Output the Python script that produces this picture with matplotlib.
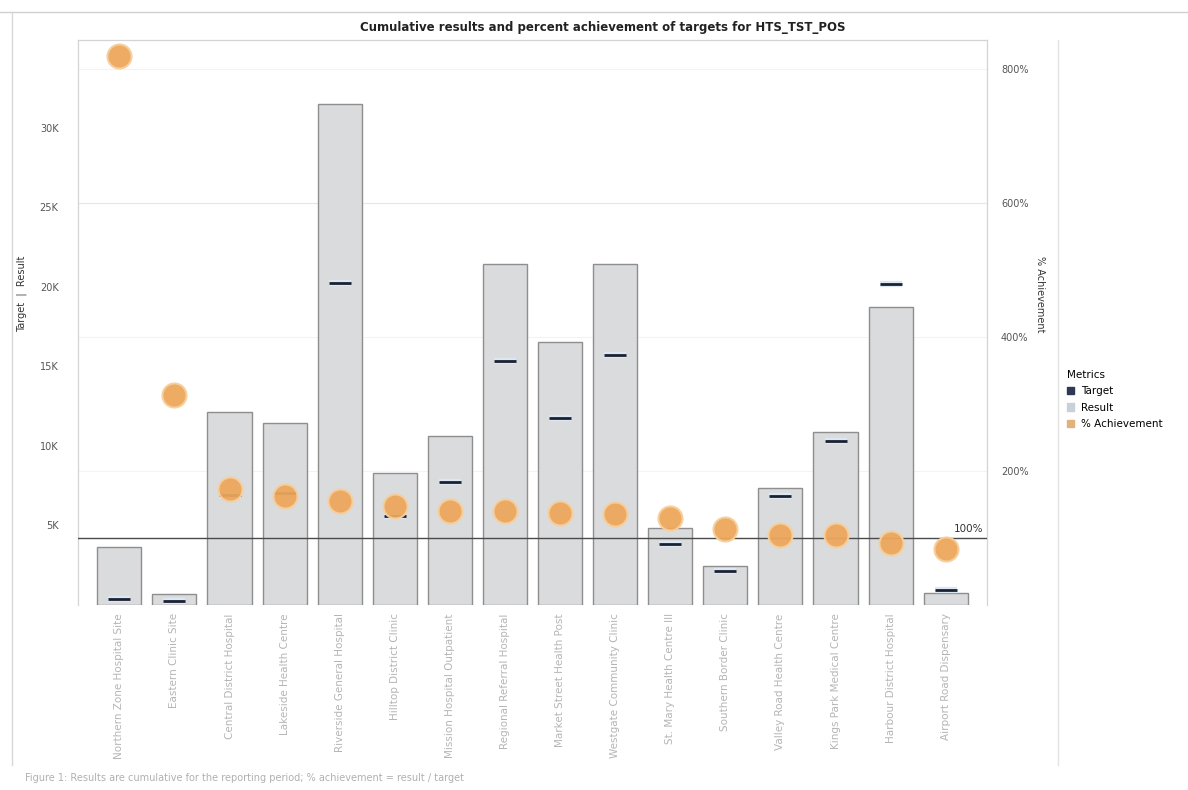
import numpy as np
import matplotlib
matplotlib.use("Agg")
import matplotlib.pyplot as plt
from matplotlib.lines import Line2D
from matplotlib.patches import Patch
from matplotlib.ticker import FuncFormatter

# site labels (blurred in the source, so these are stand-ins)
sites = ["Northern Zone Hospital Site", "Eastern Clinic Site",
         "Central District Hospital", "Lakeside Health Centre",
         "Riverside General Hospital", "Hilltop District Clinic",
         "Mission Hospital Outpatient", "Regional Referral Hospital",
         "Market Street Health Post", "Westgate Community Clinic",
         "St. Mary Health Centre III", "Southern Border Clinic",
         "Valley Road Health Centre", "Kings Park Medical Centre",
         "Harbour District Hospital", "Airport Road Dispensary"]

# values
result = [3650, 700, 12100, 11450, 31450, 8300, 10600, 21400,
          16500, 21400, 4850, 2450, 7350, 10900, 18750, 750]
target = [400, 250, 6900, 7050, 20250, 5600, 7700, 15300,
          11750, 15700, 3850, 2150, 6850, 10300, 20200, 950]
achievement = [819, 313, 173, 163, 155, 148, 140, 140,
               137, 136, 130, 113, 104, 104, 93, 84]

left_ticks = [5000, 10000, 15000, 20000, 25000, 30000]
right_ticks = [200, 400, 600, 800]

c_bar = "#dadbdd"
c_target = "#1c2130"
c_point = "#eca75c"
txt = "#555555"

fig = plt.figure(figsize=(11.88, 7.9), dpi=100)
ax = fig.add_axes([78 / 1188, 185 / 790, 909 / 1188, 565 / 790])
ax2 = ax.twinx()
ax.set_zorder(ax2.get_zorder() + 1)
ax.patch.set_visible(False)

x = np.arange(len(sites))

# gridlines for the % axis (only 600% shows clearly)
for t in right_ticks:
    ax2.axhline(t, color="#e6e6e6" if t == 600 else "#f3f3f3", lw=0.8, zorder=0)

ax.bar(x, result, width=0.8, color=c_bar, edgecolor="#8e8e8e", lw=1, zorder=2)
# target dashes with a pale halo
ax.scatter(x, target, marker="_", s=260, linewidths=4.5, color="#dbe8f4", zorder=3)
ax.scatter(x, target, marker="_", s=260, linewidths=2.0, color=c_target, zorder=4)

ax.set_xlim(-0.75, 15.75)
ax.set_ylim(0, 35500)
ax2.set_ylim(0, 843)

# % achievement points, drawn on ax via the ax2 scale
pts = ax2.transData.transform(np.column_stack([x, achievement]))
pts = ax.transData.inverted().transform(pts)
ax.scatter(pts[:, 0], pts[:, 1], s=300, color=c_point, edgecolor="#f6cf9c",
           linewidths=1.5, alpha=0.95, zorder=5)

# 100% reference line
y100 = ax.transData.inverted().transform(ax2.transData.transform((0, 100)))[1]
ax.axhline(y100, color="#4a4a4a", lw=1.0, zorder=4.5)
ax.text(15.42, y100 + 250, "100%", fontsize=7.5, color="#333333",
        ha="center", va="bottom", zorder=6)

ax.set_yticks(left_ticks)
ax.yaxis.set_major_formatter(FuncFormatter(lambda v, p: f"{int(v / 1000)}K"))
ax2.set_yticks(right_ticks)
ax2.yaxis.set_major_formatter(FuncFormatter(lambda v, p: f"{int(v)}%"))

ax.set_xticks(x)
ax.set_xticklabels(sites, rotation=90, fontsize=7.5, color="#b5b5b5")
ax.tick_params(axis="x", length=0, pad=6)
ax.tick_params(axis="y", length=0, labelsize=7, labelcolor=txt, pad=14)
ax2.tick_params(axis="y", length=0, labelsize=7, labelcolor=txt, pad=10)

for a in (ax, ax2):
    for s in a.spines.values():
        s.set_color("#d4d4d4")
        s.set_linewidth(0.8)
    a.spines["bottom"].set_visible(False)

ax.set_ylabel("Target  |  Result", fontsize=7, color="#333333")
ax.yaxis.set_label_coords(-0.056, 0.55)
ax2.set_ylabel("% Achievement", fontsize=7, color="#333333", rotation=270)
ax2.yaxis.set_label_coords(1.064, 0.55)

fig.text(0.507, 1 - 28 / 790, "Cumulative results and percent achievement of targets for HTS_TST_POS",
         ha="center", va="center", fontsize=8.5, fontweight="bold", color="#222222")

# frame lines of the dashboard panel
fig.add_artist(Line2D([0, 1], [1 - 12 / 790] * 2, color="#d0d0d0", lw=1))
fig.add_artist(Line2D([12 / 1188] * 2, [1 - 12 / 790, 1 - 765 / 790], color="#d8d8d8", lw=1))
fig.add_artist(Line2D([1058 / 1188] * 2, [1 - 40 / 790, 1 - 765 / 790], color="#e2e2e2", lw=1))

handles = [Patch(color="#2e3a55", label="Target"),
           Patch(color="#c8d0da", label="Result"),
           Patch(color="#e3b27c", label="% Achievement")]
leg = fig.legend(handles=handles, title="Metrics", loc="upper left",
                 bbox_to_anchor=(1063 / 1188, 1 - 366 / 790), frameon=False,
                 fontsize=7.5, title_fontsize=7.5, handlelength=0.7, handleheight=0.7,
                 handletextpad=0.6, labelspacing=0.6, borderaxespad=0)
leg._legend_box.align = "left"

fig.text(25 / 1188, 1 - 778 / 790,
         "Figure 1: Results are cumulative for the reporting period; % achievement = result / target",
         fontsize=7, color="#b0b0b0", va="center")

fig.savefig("out.png", dpi=100)
